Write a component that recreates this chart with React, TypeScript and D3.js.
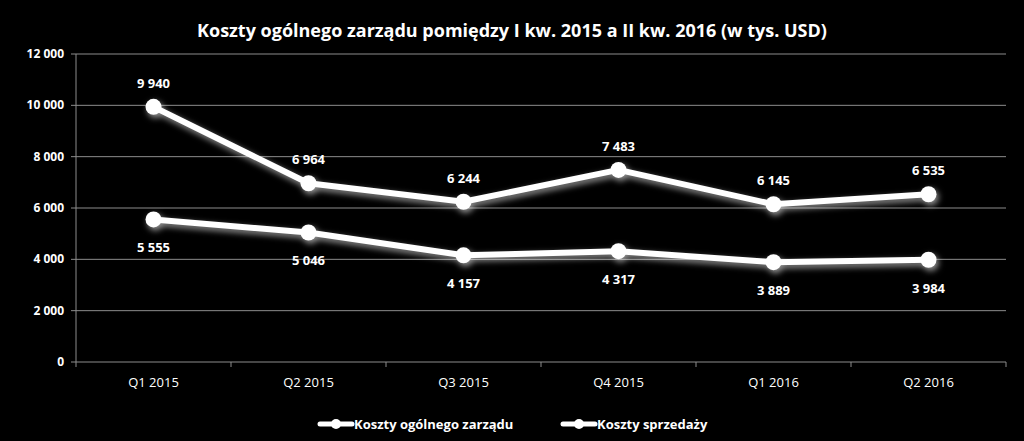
import React from "react";
import * as d3 from "d3";

const categories = ["Q1 2015", "Q2 2015", "Q3 2015", "Q4 2015", "Q1 2016", "Q2 2016"];
const adminCosts = [9940, 6964, 6244, 7483, 6145, 6535];
const salesCosts = [5555, 5046, 4157, 4317, 3889, 3984];
const yTicks = [0, 2000, 4000, 6000, 8000, 10000, 12000];
const seriesNames = ["Koszty ogólnego zarządu", "Koszty sprzedaży"];
const title = "Koszty ogólnego zarządu pomiędzy I kw. 2015 a II kw. 2016 (w tys. USD)";

const W = 1024, H = 441;
const left = 76, right = 1006, top = 54, bottom = 362;
const font = "'Open Sans', 'Noto Sans', sans-serif";

const fmt = (v: number) => {
  const s = String(v);
  return s.replace(/\B(?=(\d{3})+(?!\d))/g, " ");
};

export default function App() {
  const x = d3.scaleBand().domain(categories).range([left, right]);
  const y = d3.scaleLinear().domain([0, 12000]).range([bottom, top]);
  const cx = (c: string) => (x(c) as number) + x.bandwidth() / 2;
  const line = d3.line<number>().x((_, i) => cx(categories[i])).y((d) => y(d));
  const series = [
    { name: seriesNames[0], values: adminCosts, above: true },
    { name: seriesNames[1], values: salesCosts, above: false },
  ];
  const legendX = [320, 563];
  return (
    <svg width={W} height={H} style={{ position: "absolute", left: 0, top: 0, background: "#000" }}>
      <defs>
        <filter id="glow" x="-20%" y="-50%" width="140%" height="200%">
          <feGaussianBlur in="SourceAlpha" stdDeviation="3" result="b" />
          <feOffset dx="2" dy="3" in="b" result="o" />
          <feFlood floodColor="#ffffff" floodOpacity="0.6" />
          <feComposite in2="o" operator="in" result="s" />
          <feMerge>
            <feMergeNode in="s" />
            <feMergeNode in="SourceGraphic" />
          </feMerge>
        </filter>
      </defs>
      <rect x={0} y={0} width={W} height={H} fill="#000" />
      <text x={512} y={37} textAnchor="middle" fill="#fff" fontFamily={font} fontWeight="bold" fontSize={18}>
        {title}
      </text>
      {yTicks.map((t) => (
        <g key={t}>
          <line x1={left - 5} x2={right} y1={y(t)} y2={y(t)} stroke="#8c8c8c" strokeWidth={1} />
          <text x={left - 12} y={y(t) + 4} textAnchor="end" fill="#fff" fontFamily={font} fontWeight="bold" fontSize={12}>
            {fmt(t)}
          </text>
        </g>
      ))}
      <line x1={left} x2={left} y1={top} y2={bottom} stroke="#8c8c8c" strokeWidth={1} />
      {categories.map((c, i) => (
        <g key={c}>
          <line x1={x(c) as number} x2={x(c) as number} y1={bottom} y2={bottom + 5} stroke="#8c8c8c" />
          {i === categories.length - 1 && (
            <line x1={right} x2={right} y1={bottom} y2={bottom + 5} stroke="#8c8c8c" />
          )}
          <text x={cx(c)} y={bottom + 25} textAnchor="middle" fill="#fff" fontFamily={font} fontSize={13}>
            {c}
          </text>
        </g>
      ))}
      {series.map((s) => (
        <g key={s.name} filter="url(#glow)">
          <path d={line(s.values) as string} fill="none" stroke="#fff" strokeWidth={6} strokeLinejoin="round" />
          {s.values.map((v, i) => (
            <circle key={i} cx={cx(categories[i])} cy={y(v)} r={8} fill="#fff" />
          ))}
        </g>
      ))}
      {series.map((s) =>
        s.values.map((v, i) => (
          <text
            key={s.name + i}
            x={cx(categories[i])}
            y={s.above ? y(v) - 19 : y(v) + 33}
            textAnchor="middle"
            fill="#fff"
            fontFamily={font}
            fontWeight="bold"
            fontSize={13}
          >
            {fmt(v)}
          </text>
        ))
      )}
      {series.map((s, i) => (
        <g key={"lg" + s.name}>
          <line x1={legendX[i]} x2={legendX[i] + 32} y1={424} y2={424} stroke="#fff" strokeWidth={5} strokeLinecap="round" />
          <circle cx={legendX[i] + 16} cy={424} r={5} fill="#fff" />
          <text x={legendX[i] + 34} y={429} fill="#fff" fontFamily={font} fontWeight="bold" fontSize={13}>
            {s.name}
          </text>
        </g>
      ))}
    </svg>
  );
}
